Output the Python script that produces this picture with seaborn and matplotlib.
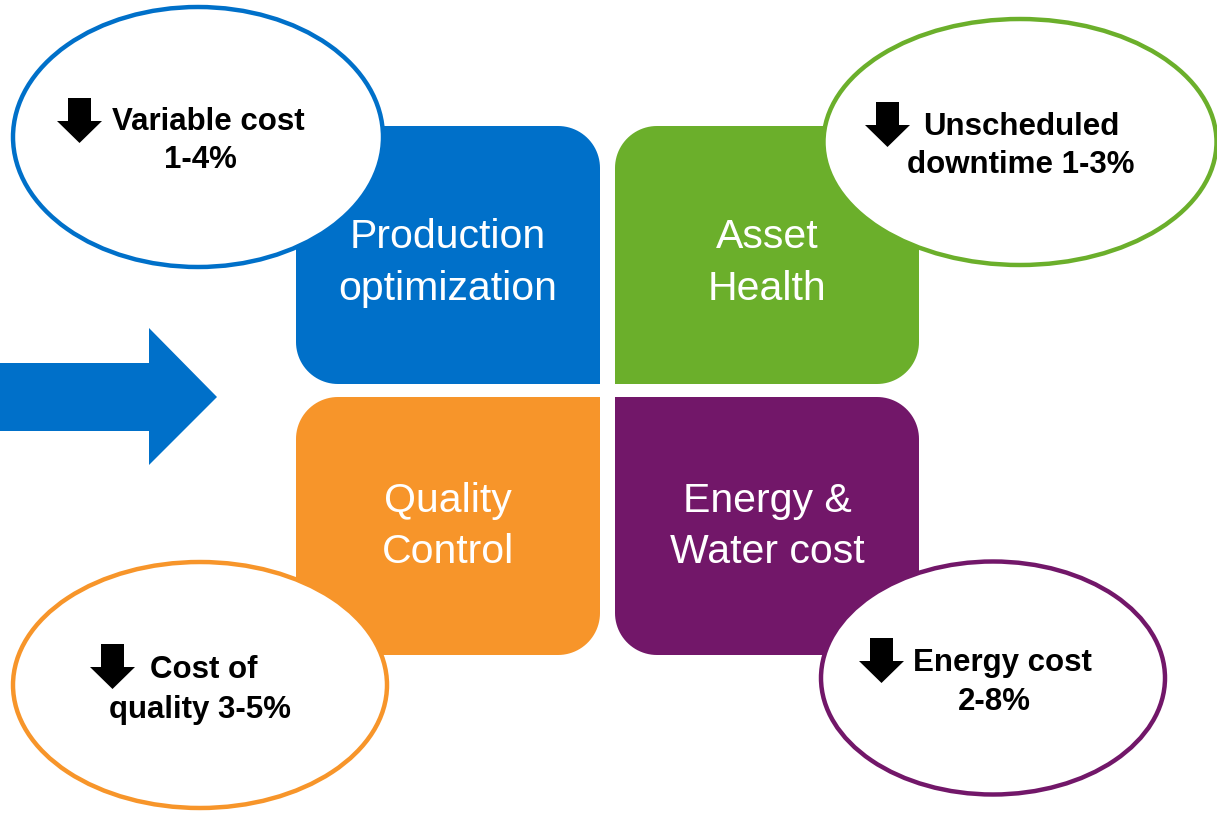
import numpy as np
import seaborn as sns
import matplotlib.pyplot as plt
from matplotlib.patches import Polygon, Ellipse

# four focus areas and the savings each one brings
box_lines = [["Production", "optimization"], ["Asset", "Health"],
             ["Quality", "Control"], ["Energy &", "Water cost"]]
box_colors = ["#0070C9", "#6BAF2B", "#F7952A", "#721769"]
saving_lines = [["Variable cost", "1-4%"], ["Unscheduled", "downtime 1-3%"],
                ["Cost of", "quality 3-5%"], ["Energy cost", "2-8%"]]

# layout in pixels (y down)
box_rects = [(296, 126, 600, 384), (615, 126, 919, 384),
             (296, 397, 600, 655), (615, 397, 919, 655)]
square_corner = ["br", "bl", "tr", "tl"]
box_text_x = [448, 767, 448, 767]
box_baselines = [(248, 300), (248, 300), (512, 563), (512, 563)]
ell_geom = [(198, 137, 370, 260), (1020, 142, 393, 246),
            (200, 685, 374, 246), (993, 678, 344, 233)]
ell_text_x = [(208, 200), (1021, 1021), (204, 200), (1002, 994)]
ell_baselines = [(130, 168), (135, 173), (678, 718), (671, 710)]
down_arrow_at = [(57, 98), (865, 102), (90, 644), (859, 638)]

sns.set_theme(style="white")
plt.rcParams['font.family'] = ['Liberation Sans', 'DejaVu Sans']

fig = plt.figure(figsize=(12.17, 8.13), dpi=100)
ax = fig.add_axes([0, 0, 1, 1])
ax.set_xlim(0, 1217)
ax.set_ylim(813, 0)
ax.axis('off')


def rounded_box(x0, y0, x1, y1, r, square):
    pts = []
    spec = [('tl', x0 + r, y0 + r, 180, (x0, y0)), ('tr', x1 - r, y0 + r, 270, (x1, y0)),
            ('br', x1 - r, y1 - r, 0, (x1, y1)), ('bl', x0 + r, y1 - r, 90, (x0, y1))]
    for name, cx, cy, a0, corner in spec:
        if name == square:
            pts.append(corner)
        else:
            t = np.radians(np.linspace(a0, a0 + 90, 24))
            pts += list(zip(cx + r * np.cos(t), cy + r * np.sin(t)))
    return pts


# big arrow on the left
ax.add_patch(Polygon([(0, 363), (149, 363), (149, 328), (217, 397), (149, 465),
                      (149, 431), (0, 431)], closed=True, color=box_colors[0], lw=0))

for i in range(4):
    x0, y0, x1, y1 = box_rects[i]
    ax.add_patch(Polygon(rounded_box(x0, y0, x1, y1, 42, square_corner[i]),
                         closed=True, color=box_colors[i], lw=0, zorder=1))
    for line, yb in zip(box_lines[i], box_baselines[i]):
        ax.text(box_text_x[i], yb, line, ha='center', va='baseline',
                color='white', fontsize=29.5, zorder=2)

for i in range(4):
    cx, cy, w, h = ell_geom[i]
    ax.add_patch(Ellipse((cx, cy), w, h, facecolor='white', edgecolor=box_colors[i],
                         lw=3.2, zorder=3))
    for line, x, yb in zip(saving_lines[i], ell_text_x[i], ell_baselines[i]):
        ax.text(x, yb, line, ha='center', va='baseline', color='black',
                fontsize=22.5, fontweight='bold', zorder=4)
    # small black down arrow
    L, T = down_arrow_at[i]
    ax.add_patch(Polygon([(L + 11, T), (L + 34, T), (L + 34, T + 23), (L + 45, T + 23),
                          (L + 22.5, T + 45), (L, T + 23), (L + 11, T + 23)],
                         closed=True, color='black', lw=0, zorder=4))

plt.savefig('out.png', dpi=100)
